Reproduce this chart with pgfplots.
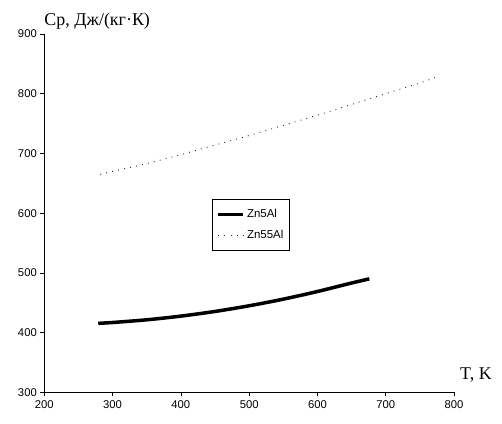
\documentclass[border=0pt]{standalone}
\usepackage{pgfplots}
\pgfplotsset{compat=1.18}
\usepackage{fontspec}
\setmainfont{Liberation Serif}
\newfontfamily\arial{Liberation Sans}
\begin{document}
\begin{tikzpicture}[x=1bp,y=1bp]
\useasboundingbox (-44.3,-30.7) rectangle (457.7,392.3);
\begin{axis}[
  at={(0,0)}, anchor=origin,
  scale only axis, width=409.7bp, height=358.3bp,
  xmin=200, xmax=800, ymin=300, ymax=900,
  axis lines=left, axis line style={-, line width=0.7bp},
  xtick={200,300,...,800}, ytick={300,400,...,900},
  tick align=outside, major tick length=4bp,
  tick style={line width=0.6bp, black},
  /pgf/number format/assume math mode=true,
  tick label style={font=\arial\fontsize{11.3}{13}\selectfont},
  xticklabel style={yshift=-1bp},
  legend style={at={(0.410,0.539)}, anchor=north west, draw=black, line width=0.6bp,
    font=\arial\fontsize{11.5}{13}\selectfont, inner xsep=4bp, inner ysep=8bp,
    row sep=7bp, cells={anchor=west}},
  legend image code/.code={\draw[#1] (0bp,0bp) -- (25bp,0bp);},
  clip=false,
]
\addplot[black, line width=3.5bp, smooth] coordinates {
(279,415.5) (300,416.9) (350,421.4) (400,427.6) (450,435.4) (500,444.9) (550,456.0) (600,468.8) (650,483.0) (676,490)};
\addlegendentry{Zn5Al}
\addplot[black!85, line width=0.9bp, dash pattern=on 0.9bp off 5.2bp, smooth] coordinates {
(282,665) (300,670) (350,683) (400,698) (450,714) (500,730) (550,747) (600,764) (650,782) (700,800) (750,818) (772,827)};
\addlegendentry{Zn55Al}
\node[anchor=base west, font=\fontsize{18}{20}\selectfont, inner sep=0pt] at ([yshift=9bp]rel axis cs:0,1) {Cp, Дж/(кг·К)};
\node[anchor=base west, font=\fontsize{18}{20}\selectfont, inner sep=0pt] at ([xshift=6bp,yshift=13bp]rel axis cs:1,0) {T, K};
\end{axis}
\end{tikzpicture}
\end{document}
